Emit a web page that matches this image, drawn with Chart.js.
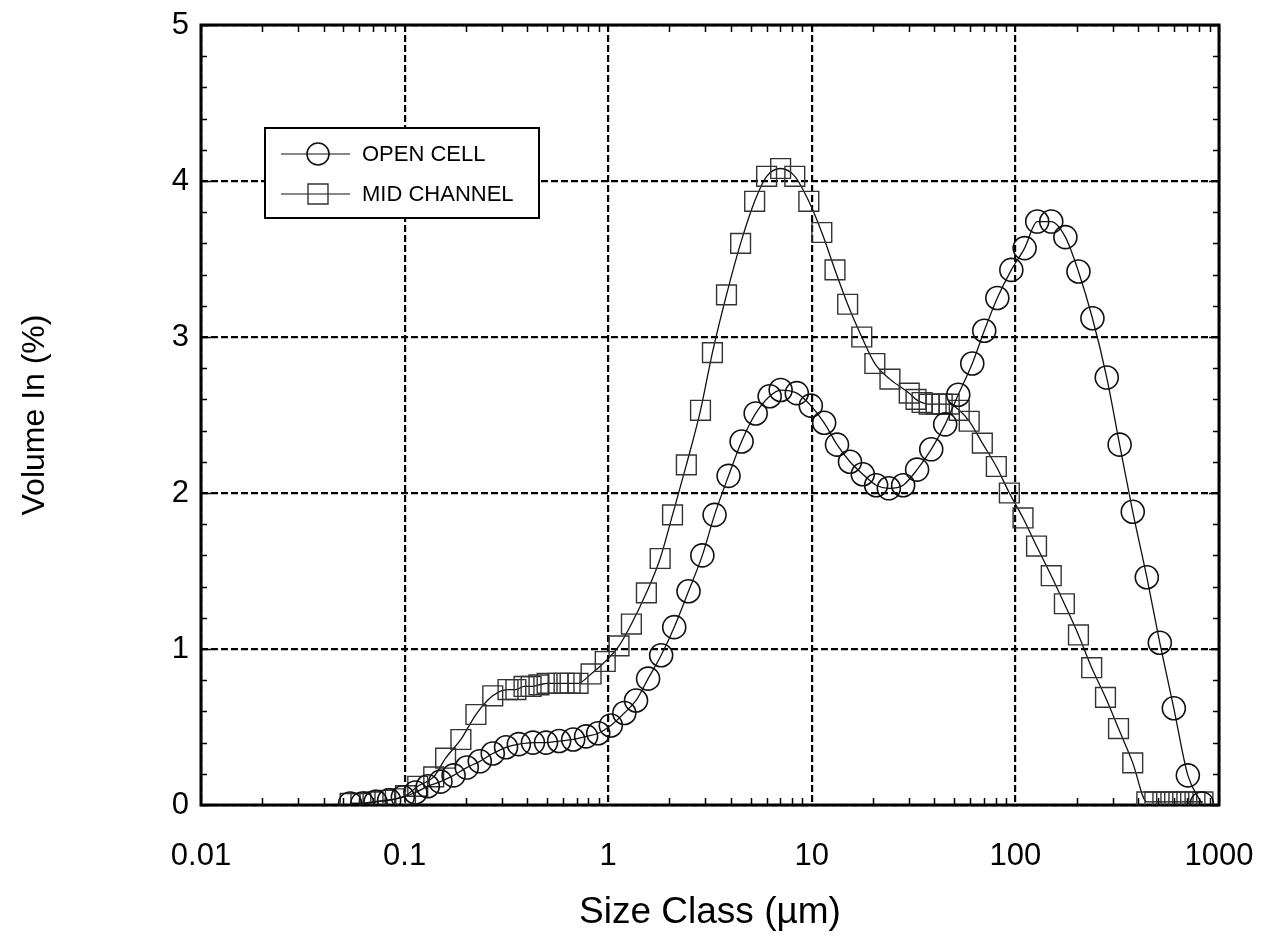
<!DOCTYPE html>
<html>
<head>
<meta charset="utf-8">
<title>Size Class vs Volume</title>
<script src="https://cdn.jsdelivr.net/npm/chart.js@4/dist/chart.umd.min.js"></script>
<style>
  html, body { margin: 0; padding: 0; background: #fff; }
  #wrap { width: 1261px; height: 941px; position: relative; }
</style>
</head>
<body>
<div id="wrap"><canvas id="c" width="1261" height="941"></canvas></div>
<script>
// Size classes (µm) and volume fractions (%) for each sampling site
const sizeOpenCell = [0.054, 0.062, 0.072, 0.084, 0.098, 0.113, 0.130, 0.150, 0.174, 0.202,
  0.234, 0.271, 0.315, 0.364, 0.427, 0.495, 0.574, 0.673, 0.779, 0.893,
  1.03, 1.20, 1.37, 1.57, 1.82, 2.11, 2.48, 2.90, 3.33, 3.90,
  4.52, 5.30, 6.21, 7.03, 8.44, 9.89, 11.5, 13.3, 15.4, 17.8,
  20.7, 23.9, 28.1, 32.9, 38.6, 45.2, 52.4, 61.4, 70.3, 81.5,
  95.5, 111, 128, 150, 176, 204, 239, 281, 325, 377,
  442, 512, 600, 703, 824];
const volOpenCell = [0.01, 0.01, 0.02, 0.03, 0.05, 0.08, 0.12, 0.15, 0.19, 0.24,
  0.28, 0.33, 0.37, 0.39, 0.40, 0.40, 0.41, 0.42, 0.44, 0.46,
  0.51, 0.59, 0.67, 0.81, 0.96, 1.14, 1.37, 1.60, 1.86, 2.11,
  2.33, 2.51, 2.62, 2.66, 2.64, 2.56, 2.45, 2.31, 2.20, 2.12,
  2.05, 2.03, 2.05, 2.15, 2.28, 2.44, 2.63, 2.83, 3.04, 3.25,
  3.43, 3.57, 3.74, 3.74, 3.64, 3.42, 3.12, 2.74, 2.31, 1.88,
  1.46, 1.04, 0.62, 0.19, 0.01];

const sizeMidChannel = [0.054, 0.061, 0.070, 0.080, 0.090, 0.101, 0.116, 0.139, 0.159, 0.189,
  0.224, 0.271, 0.322, 0.352, 0.386, 0.418, 0.457, 0.501, 0.567, 0.607,
  0.650, 0.711, 0.824, 0.967, 1.13, 1.30, 1.54, 1.80, 2.07, 2.42,
  2.84, 3.25, 3.81, 4.47, 5.24, 6.00, 7.03, 8.25, 9.67, 11.2,
  13.0, 15.0, 17.6, 20.4, 24.2, 30.1, 32.5, 34.8, 37.7, 40.8,
  43.7, 47.3, 53.0, 59.3, 68.8, 80.6, 93.4, 109, 127, 150,
  174, 204, 237, 277, 321, 377, 442, 484, 530, 580,
  635, 695, 762, 834];
const volMidChannel = [0.01, 0.01, 0.02, 0.03, 0.04, 0.06, 0.12, 0.18, 0.30, 0.42,
  0.58, 0.70, 0.74, 0.74, 0.76, 0.76, 0.77, 0.78, 0.78, 0.78,
  0.78, 0.78, 0.84, 0.92, 1.02, 1.16, 1.36, 1.58, 1.86, 2.18,
  2.53, 2.90, 3.27, 3.60, 3.87, 4.03, 4.08, 4.03, 3.87, 3.67,
  3.43, 3.21, 3.00, 2.83, 2.73, 2.64, 2.60, 2.58, 2.57, 2.57,
  2.57, 2.57, 2.53, 2.46, 2.32, 2.17, 2.00, 1.84, 1.66, 1.47,
  1.29, 1.09, 0.88, 0.69, 0.49, 0.27, 0.02, 0.02, 0.02, 0.02,
  0.02, 0.02, 0.02, 0.02];

// Axis ticks
const xTickValues = [0.01, 0.1, 1, 10, 100, 1000];
const xTickLabels = ['0.01', '0.1', '1', '10', '100', '1000'];
const yTickValues = [0, 1, 2, 3, 4, 5];

const seriesNames = ['OPEN CELL', 'MID CHANNEL'];

const FONT = "'Liberation Sans', Arial, Helvetica, sans-serif";

function toPoints(xs, ys) {
  return xs.map((x, i) => ({ x: x, y: ys[i] }));
}

// Keep tick labels from shrinking the plot area
function noLabelPadding(s) {
  s.paddingLeft = 0; s.paddingRight = 0; s.paddingTop = 0; s.paddingBottom = 0;
}

// Box frame plus inward minor / major tick marks on all four sides
const frameTicks = {
  id: 'frameTicks',
  beforeDatasetsDraw(chart) {
    const { ctx, chartArea: a, scales: { x, y } } = chart;
    ctx.save();
    ctx.strokeStyle = '#000';
    ctx.lineWidth = 1.5;
    ctx.beginPath();
    for (let i = 0; i < xTickValues.length - 1; i++) {
      const d = xTickValues[i];
      for (let m = 2; m <= 9; m++) {
        const px = Math.round(x.getPixelForValue(d * m)) + 0.5;
        ctx.moveTo(px, a.bottom); ctx.lineTo(px, a.bottom - 7);
        ctx.moveTo(px, a.top); ctx.lineTo(px, a.top + 7);
      }
    }
    for (let v = 0; v <= 5.001; v += 0.2) {
      const py = Math.round(y.getPixelForValue(v)) + 0.5;
      const major = Math.abs(v - Math.round(v)) < 1e-6;
      const len = major ? 10 : 6;
      ctx.moveTo(a.left, py); ctx.lineTo(a.left + len, py);
      ctx.moveTo(a.right, py); ctx.lineTo(a.right - len, py);
    }
    ctx.stroke();
    ctx.lineWidth = 3;
    ctx.strokeRect(a.left, a.top, a.right - a.left, a.bottom - a.top);
    ctx.restore();
  },
  afterDraw(chart) {
    // Boxed legend in the upper-left of the plot area
    const { ctx } = chart;
    const bx = 265, by = 128, bw = 274, bh = 90;
    ctx.save();
    ctx.fillStyle = '#fff';
    ctx.fillRect(bx, by, bw, bh);
    ctx.strokeStyle = '#000';
    ctx.lineWidth = 2;
    ctx.strokeRect(bx, by, bw, bh);
    const rows = [by + 26, by + 66];
    chart.data.datasets.forEach((ds, i) => {
      const ry = rows[i];
      ctx.strokeStyle = ds.borderColor;
      ctx.lineWidth = 1.2;
      ctx.beginPath();
      ctx.moveTo(281, ry); ctx.lineTo(350, ry);
      ctx.stroke();
      ctx.lineWidth = ds.pointBorderWidth;
      ctx.strokeStyle = ds.pointBorderColor;
      ctx.beginPath();
      if (ds.pointStyle === 'circle') {
        ctx.arc(318, ry, 11, 0, Math.PI * 2);
      } else {
        ctx.rect(308, ry - 10, 20, 20);
      }
      ctx.stroke();
      ctx.fillStyle = '#000';
      ctx.font = '22px ' + FONT;
      ctx.textBaseline = 'middle';
      ctx.textAlign = 'left';
      ctx.fillText(ds.label, 362, ry + 1);
    });
    ctx.restore();
  }
};

const ctx = document.getElementById('c').getContext('2d');
new Chart(ctx, {
  type: 'scatter',
  data: {
    datasets: [
      {
        label: seriesNames[0],
        data: toPoints(sizeOpenCell, volOpenCell),
        showLine: true,
        borderColor: '#111',
        borderWidth: 1.3,
        cubicInterpolationMode: 'monotone',
        pointStyle: 'circle',
        pointRadius: 11.5,
        pointBorderWidth: 1.6,
        pointBorderColor: '#111',
        pointBackgroundColor: 'rgba(0,0,0,0)'
      },
      {
        label: seriesNames[1],
        data: toPoints(sizeMidChannel, volMidChannel),
        showLine: true,
        borderColor: '#111',
        borderWidth: 1.3,
        cubicInterpolationMode: 'monotone',
        pointStyle: 'rect',
        pointRadius: 14,
        pointBorderWidth: 1.4,
        pointBorderColor: '#333',
        pointBackgroundColor: 'rgba(0,0,0,0)'
      }
    ]
  },
  options: {
    responsive: false,
    animation: false,
    devicePixelRatio: 1,
    layout: { padding: { left: 0, right: 42, top: 25, bottom: 0 } },
    plugins: {
      legend: { display: false },
      tooltip: { enabled: false }
    },
    scales: {
      x: {
        type: 'logarithmic',
        min: 0.01,
        max: 1000,
        afterBuildTicks: s => { s.ticks = xTickValues.map(v => ({ value: v })); },
        afterFit: s => { s.height = 136; noLabelPadding(s); },
        ticks: {
          autoSkip: false,
          maxRotation: 0,
          padding: 33,
          color: '#000',
          font: { family: FONT, size: 31 },
          callback: (v) => { const i = xTickValues.indexOf(v); return i >= 0 ? xTickLabels[i] : ''; }
        },
        grid: {
          color: '#000',
          lineWidth: 2.2,
          drawTicks: false
        },
        border: { display: false, dash: [7, 3] },
        title: {
          display: true,
          text: 'Size Class (µm)',
          color: '#000',
          font: { family: FONT, size: 37 },
          padding: { top: 0, bottom: 6 }
        }
      },
      y: {
        type: 'linear',
        min: 0,
        max: 5,
        afterBuildTicks: s => { s.ticks = yTickValues.map(v => ({ value: v })); },
        afterFit: s => { s.width = 201; noLabelPadding(s); },
        ticks: {
          padding: 12,
          color: '#000',
          font: { family: FONT, size: 31 },
          callback: v => String(v)
        },
        grid: {
          color: '#000',
          lineWidth: 2.2,
          drawTicks: false
        },
        border: { display: false, dash: [7, 3] },
        title: {
          display: true,
          text: 'Volume In (%)',
          color: '#000',
          font: { family: FONT, size: 32 },
          padding: { top: 16, bottom: 0 }
        }
      }
    }
  },
  plugins: [frameTicks]
});
</script>
</body>
</html>
